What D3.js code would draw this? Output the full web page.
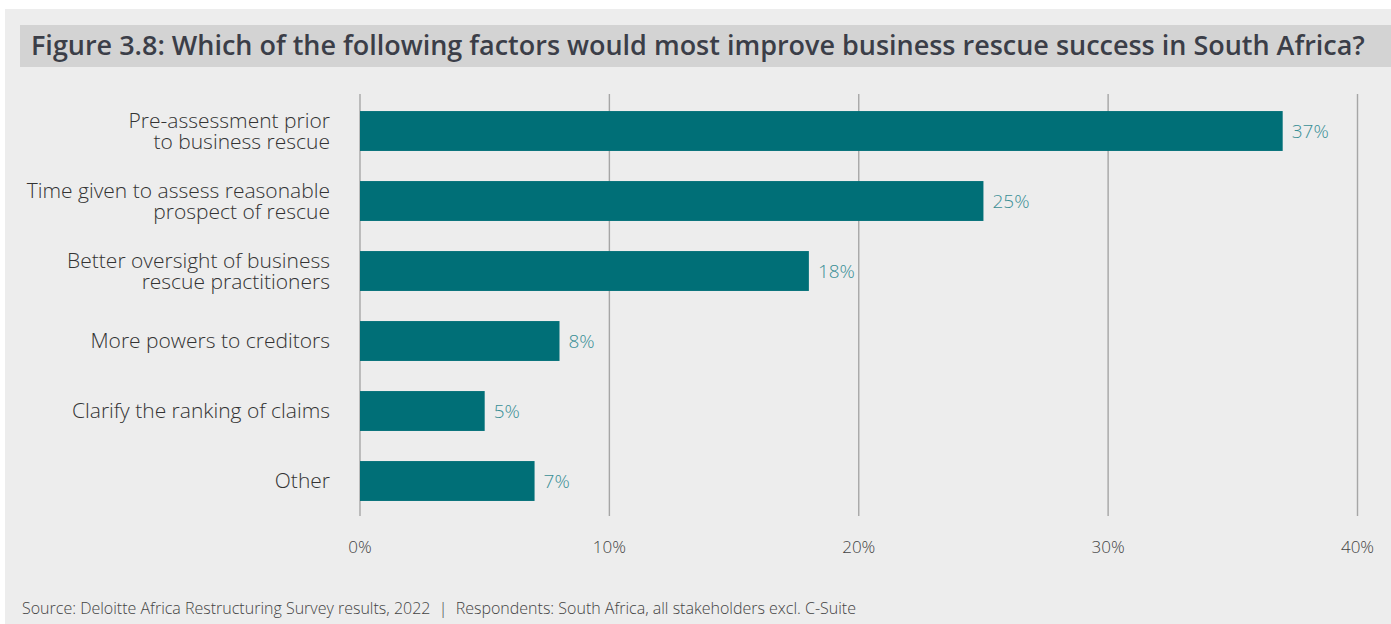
<!DOCTYPE html>
<html>
<head>
<meta charset="utf-8">
<script src="https://cdn.jsdelivr.net/npm/d3@7"></script>
<style>
  html, body { margin: 0; padding: 0; background: #ffffff; }
  svg { display: block; font-family: "Open Sans", "Noto Sans", sans-serif; }
  .pre { white-space: pre; }
</style>
</head>
<body>
<svg id="chart" width="1391" height="624"></svg>
<script>
// Survey responses: share of respondents choosing each factor
const categories = [
  ["Pre-assessment prior", "to business rescue"],
  ["Time given to assess reasonable", "prospect of rescue"],
  ["Better oversight of business", "rescue practitioners"],
  ["More powers to creditors"],
  ["Clarify the ranking of claims"],
  ["Other"]
];
const values = [37, 25, 18, 8, 5, 7];
const tickValues = [0, 10, 20, 30, 40];
const tickLabels = ["0%", "10%", "20%", "30%", "40%"];

const titleText = "Figure 3.8: Which of the following factors would most improve business rescue success in South Africa?";
const sourceText = "Source: Deloitte Africa Restructuring Survey results, 2022  |  Respondents: South Africa, all stakeholders excl. C-Suite";

const svg = d3.select("#chart");
const W = 1391, H = 624;

// panel background
svg.append("rect").attr("x", 5).attr("y", 9).attr("width", W - 5).attr("height", H - 9).attr("fill", "#ededed");

// title band
svg.append("rect").attr("x", 20).attr("y", 25).attr("width", W - 20).attr("height", 42).attr("fill", "#d3d3d3");
const title = svg.append("text")
  .attr("x", 31).attr("y", 55)
  .attr("font-size", 26.5).attr("font-weight", 600).attr("fill", "#3b3e48")
  .text(titleText);
// fit title to the band width
const tl = title.node().getComputedTextLength();
title.attr("font-size", 26.5 * 1334 / tl);

const x = d3.scaleLinear().domain([0, 40]).range([360, 1357.5]);
const y = d3.scaleBand().domain(d3.range(categories.length)).range([96, 516]).paddingInner(0.43).paddingOuter(0.215);

// vertical gridlines
svg.append("g").selectAll("line").data(tickValues).join("line")
  .attr("x1", d => x(d)).attr("x2", d => x(d))
  .attr("y1", 94).attr("y2", 516)
  .attr("stroke", "#a6a6a6").attr("stroke-width", 1.4);

// tick labels
svg.append("g").selectAll("text").data(tickValues).join("text")
  .attr("x", d => x(d)).attr("y", 553)
  .attr("text-anchor", "middle").attr("font-size", 17).attr("font-weight", 300).attr("fill", "#444")
  .text((d, i) => tickLabels[i]);

// bars
svg.append("g").selectAll("rect").data(values).join("rect")
  .attr("x", x(0)).attr("y", (d, i) => y(i))
  .attr("width", d => x(d) - x(0)).attr("height", y.bandwidth())
  .attr("fill", "#006f77");

// value labels
svg.append("g").selectAll("text").data(values).join("text")
  .attr("x", d => x(d) + 9).attr("y", (d, i) => y(i) + y.bandwidth() / 2 + 7)
  .attr("font-size", 19).attr("font-weight", 300).attr("fill", "#3a8f96")
  .text(d => d + "%");

// category labels, one text element per line
const lineH = 21;
const catLines = [];
categories.forEach((lines, i) => {
  const cy = y(i) + y.bandwidth() / 2;
  const top = cy - (lines.length - 1) * lineH / 2;
  lines.forEach((s, j) => catLines.push({ s, yy: top + j * lineH + 7 }));
});
svg.append("g").selectAll("text").data(catLines).join("text")
  .attr("x", 330).attr("y", d => d.yy)
  .attr("text-anchor", "end").attr("font-size", 21).attr("font-weight", 300).attr("fill", "#333")
  .text(d => d.s);

// source note
svg.append("text")
  .attr("class", "pre")
  .attr("x", 22).attr("y", 614)
  .attr("font-size", 16).attr("font-weight", 300).attr("fill", "#444")
  .text(sourceText);
</script>
</body>
</html>
